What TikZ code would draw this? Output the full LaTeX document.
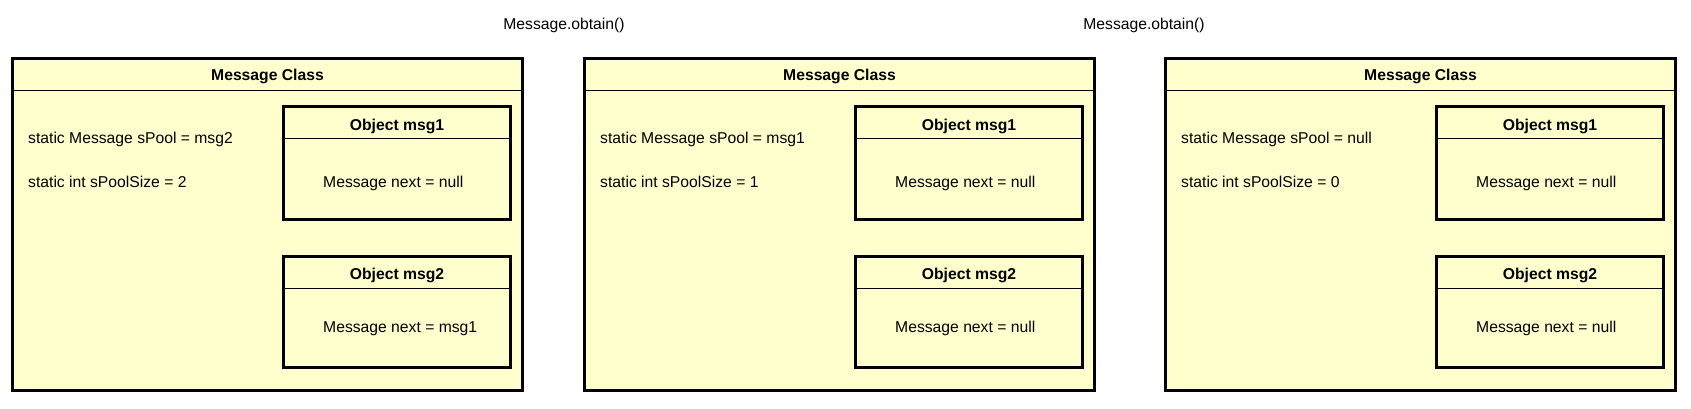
\documentclass[tikz,border=0pt]{standalone}
\usepackage{fontspec}
\setmainfont{Liberation Sans}
\definecolor{clsfill}{RGB}{255,255,206}
\tikzset{
  clsbox/.style={draw=black, fill=clsfill, line width=3pt, rectangle, inner sep=0pt, outer sep=0pt,
    minimum width=510pt, minimum height=332pt, anchor=north west},
  objbox/.style={draw=black, fill=clsfill, line width=3pt, rectangle, inner sep=0pt, outer sep=0pt,
    minimum width=227pt, anchor=north west},
  sepline/.style={line width=1pt, draw=black},
  plaintext/.style={font=\fontsize{15.7pt}{19pt}\selectfont, inner sep=0pt, anchor=base west, text=black},
  boldtext/.style={font=\fontsize{15.7pt}{19pt}\selectfont\bfseries, inner sep=0pt, anchor=base, text=black},
}
\begin{document}
\begin{tikzpicture}[x=1pt,y=-1pt]
\useasboundingbox (0,0) rectangle (1691,409);
\node[plaintext, anchor=base] (calla) at (564,29.5) {Message.obtain()};
\node[plaintext, anchor=base] (callb) at (1144,29.5) {Message.obtain()};
\foreach \X/\pool/\size/\nxt/\id in {12.5/msg2/2/msg1/a, 584.5/msg1/1/null/b, 1165.5/null/0/null/c} {
  \node[clsbox] (cls\id) at (\X,58.5) {};
  \draw[sepline] ([yshift=-32pt]cls\id.north west) -- ([yshift=-32pt]cls\id.north east);
  \node[boldtext] (ttl\id) at (\X+255,81) {Message Class};
  \node[plaintext] (pool\id) at (\X+15.5,143.7) {static Message sPool = \pool};
  \node[plaintext] (size\id) at (\X+15.5,187.5) {static int sPoolSize = \size};
  % object msg1
  \node[objbox, minimum height=112.5pt] (ma\id) at (\X+271,107) {};
  \draw[sepline] ([yshift=-31.5pt]ma\id.north west) -- ([yshift=-31.5pt]ma\id.north east);
  \node[boldtext] (mat\id) at (\X+384.5,131) {Object msg1};
  \node[plaintext] (mab\id) at (\X+310.5,187.5) {Message next = null};
  % object msg2
  \node[objbox, minimum height=111pt] (mb\id) at (\X+271,256.5) {};
  \draw[sepline] ([yshift=-32pt]mb\id.north west) -- ([yshift=-32pt]mb\id.north east);
  \node[boldtext] (mbt\id) at (\X+384.5,279.5) {Object msg2};
  \node[plaintext] (mbb\id) at (\X+310.5,332.5) {Message next = \nxt};
}
\end{tikzpicture}
\end{document}
